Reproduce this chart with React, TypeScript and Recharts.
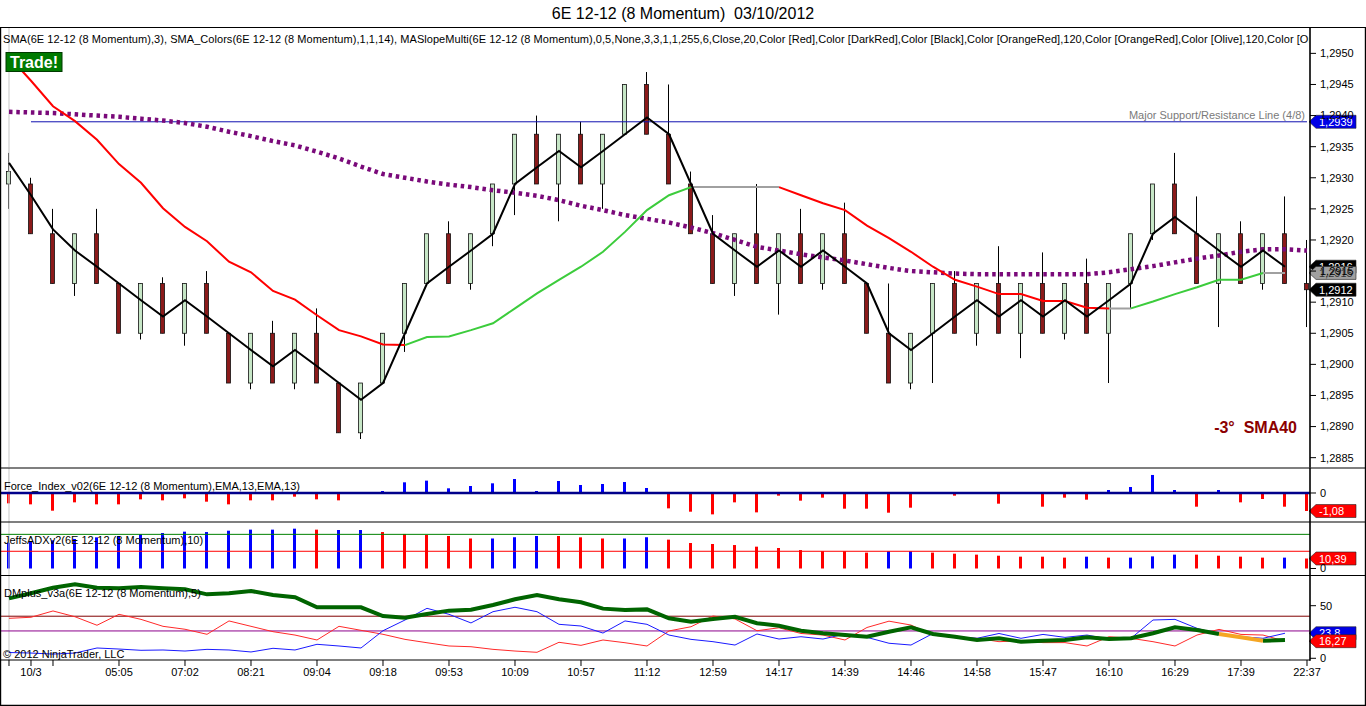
import React from "react";
import { Bar, Cell, ComposedChart, Line, ReferenceLine, XAxis, YAxis } from "recharts";

const FONT = "'Liberation Sans', Arial, sans-serif";
const W = 1366;
const X_DOMAIN: [number, number] = [-0.3636, 59.1364];
const M = { top: 0, right: 0, bottom: 0, left: 1 };

// momentum bars (8 ticks)
const opens = [
  1.2929, 1.2929, 1.2921, 1.2913, 1.2921, 1.2913, 1.2905, 1.2913, 1.2905, 1.2913,
  1.2905, 1.2897, 1.2905, 1.2897, 1.2905, 1.2897, 1.2889, 1.2897, 1.2905, 1.2913,
  1.2921, 1.2913, 1.2921, 1.2929, 1.2937, 1.2929, 1.2937, 1.2929, 1.2937, 1.2945,
  1.2937, 1.2929, 1.2921, 1.2913, 1.2921, 1.2913, 1.2921, 1.2913, 1.2921, 1.2913,
  1.2905, 1.2897, 1.2905, 1.2913, 1.2905, 1.2913, 1.2905, 1.2913, 1.2905, 1.2913,
  1.2905, 1.2913, 1.2921, 1.2929, 1.2921, 1.2913, 1.2921, 1.2913, 1.2921, 1.2913,
];
const highs = [
  1.2934, 1.293, 1.2925, 1.2921, 1.2925, 1.2913, 1.2913, 1.2914, 1.2913, 1.2915,
  1.2905, 1.2905, 1.2907, 1.2905, 1.2909, 1.2897, 1.2897, 1.2905, 1.2913, 1.2921,
  1.2923, 1.2921, 1.2929, 1.2937, 1.294, 1.2937, 1.2939, 1.2937, 1.2945, 1.2947,
  1.2945, 1.2931, 1.2924, 1.2921, 1.2929, 1.2921, 1.2925, 1.2921, 1.2926, 1.2913,
  1.2913, 1.2905, 1.2913, 1.2915, 1.2913, 1.2919, 1.2913, 1.2918, 1.2913, 1.2917,
  1.2913, 1.2921, 1.2929, 1.2934, 1.2927, 1.2921, 1.2923, 1.2921, 1.2927, 1.292,
];
const lows = [
  1.2925, 1.2921, 1.2913, 1.2911, 1.2913, 1.2905, 1.2904, 1.2905, 1.2903, 1.2905,
  1.2897, 1.2896, 1.2897, 1.2896, 1.2897, 1.2889, 1.2888, 1.2897, 1.2902, 1.2913,
  1.2913, 1.2912, 1.2919, 1.2924, 1.2929, 1.2923, 1.2929, 1.2925, 1.2937, 1.2937,
  1.2929, 1.2921, 1.2913, 1.2911, 1.2913, 1.2908, 1.2913, 1.2912, 1.2913, 1.2905,
  1.2897, 1.2896, 1.2897, 1.2905, 1.2903, 1.2905, 1.2901, 1.2905, 1.2904, 1.2905,
  1.2897, 1.2909, 1.292, 1.2921, 1.2913, 1.2906, 1.2913, 1.2912, 1.2913, 1.2906,
];
const closes = [
  1.2931, 1.2921, 1.2913, 1.2921, 1.2913, 1.2905, 1.2913, 1.2905, 1.2913, 1.2905,
  1.2897, 1.2905, 1.2897, 1.2905, 1.2897, 1.2889, 1.2897, 1.2905, 1.2913, 1.2921,
  1.2913, 1.2921, 1.2929, 1.2937, 1.2929, 1.2937, 1.2929, 1.2937, 1.2945, 1.2937,
  1.2929, 1.2921, 1.2913, 1.2921, 1.2913, 1.2921, 1.2913, 1.2921, 1.2913, 1.2905,
  1.2897, 1.2905, 1.2913, 1.2905, 1.2913, 1.2905, 1.2913, 1.2905, 1.2913, 1.2905,
  1.2913, 1.2921, 1.2929, 1.2921, 1.2913, 1.2921, 1.2913, 1.2921, 1.2913, 1.2912,
];

// SMA(3), black
const sma3 = [
  1.29324, 1.29272, 1.29217, 1.29183, 1.29157, 1.2913, 1.29103, 1.29077, 1.29103, 1.29077,
  1.2905, 1.29023, 1.28997, 1.29023, 1.28997, 1.2897, 1.28943, 1.2897, 1.2905, 1.2913,
  1.29157, 1.29183, 1.2921, 1.2929, 1.29317, 1.29343, 1.29317, 1.29343, 1.2937, 1.29397,
  1.2937, 1.2929, 1.2921, 1.29183, 1.29157, 1.29183, 1.29157, 1.29183, 1.29157, 1.2913,
  1.2905, 1.29023, 1.2905, 1.29077, 1.29103, 1.29077, 1.29103, 1.29077, 1.29103, 1.29077,
  1.29103, 1.2913, 1.2921, 1.29237, 1.2921, 1.29183, 1.29157, 1.29183, 1.29157, null,
];

// SMA_Colors(14): value and slope state per segment (d = down, u = up, f = flat)
const smaColors = [
  1.29495, 1.29456, 1.29415, 1.29391, 1.29361, 1.29322, 1.29292, 1.29251, 1.29221, 1.29198,
  1.29165, 1.29148, 1.29118, 1.29104, 1.29079, 1.29055, 1.29045, 1.29032, 1.29031, 1.29044,
  1.29045, 1.29055, 1.29066, 1.2909, 1.29114, 1.29136, 1.29157, 1.29181, 1.29213, 1.29248,
  1.29272, 1.29285, 1.29285, 1.29285, 1.29285, 1.29285, 1.29272, 1.29259, 1.29248, 1.29223,
  1.29203, 1.29181, 1.29157, 1.29136, 1.29125, 1.29113, 1.29113, 1.29102, 1.29102, 1.29091,
  1.2909, 1.2909, 1.29101, 1.29113, 1.29124, 1.29136, 1.29136, 1.29147, 1.29147, null,
];
const smaTrend = ("ddddddddddddddddddd" + "uuuuuuuuuuuuu" + "ffff" + "ddddddddddddddd" + "f" + "uuuuuu" + "f" + "-").split("");

// MASlopeMulti, purple dotted
const maSlope = [
  1.29406, 1.29405, 1.29404, 1.29402, 1.294, 1.29398, 1.29395, 1.29392, 1.29388, 1.29382,
  1.29374, 1.29367, 1.29359, 1.29352, 1.29342, 1.29331, 1.29318, 1.29306, 1.293, 1.29294,
  1.29289, 1.29285, 1.2928, 1.29276, 1.29271, 1.29264, 1.29255, 1.29248, 1.2924, 1.29234,
  1.29228, 1.2922, 1.29211, 1.292, 1.29189, 1.29183, 1.29177, 1.29172, 1.29167, 1.29161,
  1.29155, 1.2915, 1.29148, 1.29146, 1.29145, 1.29145, 1.29145, 1.29145, 1.29145, 1.29145,
  1.29148, 1.29153, 1.29158, 1.29164, 1.2917, 1.29175, 1.29181, 1.29185, 1.29185, 1.29183,
];
const srLevel = 1.2939;
const priceTicks = [1.2885, 1.289, 1.2895, 1.29, 1.2905, 1.291, 1.2915, 1.292, 1.2925, 1.293, 1.2935, 1.294, 1.2945, 1.295];

// Force_Index_v02
const force = [
  -0.62, -0.68, -1.06, -0.56, -0.68, -0.68, -0.38, -0.44, -0.32, -0.52,
  -0.68, -0.44, -0.44, -0.22, -0.38, -0.44, 0, 0.12, 0.64, 0.74,
  0.28, 0.42, 0.58, 0.84, 0.12, 0.72, 0.48, 0.54, 0.66, 0.3,
  -0.92, -1.12, -1.28, -0.56, -1.16, -0.16, -0.46, -0.28, -0.94, -0.94,
  -1.18, -0.88, -0.02, -0.16, 0, -0.64, 0, -0.82, -0.28, -0.4,
  0.18, 0.36, 1.08, 0.18, -0.82, 0.18, -0.56, -0.36, -0.82, -1.08,
];

// JeffsADXv2
const adx = [
  26.8, 27.9, 29.3, 30.7, 32.4, 33.8, 35.5, 36.9, 38.3, 37.9,
  39.3, 40.4, 40.4, 41.4, 40.4, 40, 40, 37.9, 35.9, 34.8,
  33.8, 31.2, 31.2, 32.5, 33.8, 33.8, 32.4, 31.2, 31.2, 32.5,
  30, 26.5, 25.5, 24.4, 22.7, 21.3, 19.2, 17.9, 17.9, 16.5,
  17.9, 17.9, 16.5, 15.4, 14.4, 13.3, 12.3, 12.3, 11.3, 12.3,
  11.3, 11.3, 12.6, 14.4, 14.4, 13.3, 12.3, 11.3, 11.3, 10.39,
];
const adxDir = ("bbbbbbbbbbbbbb" + "r" + "bb" + "rrrrr" + "bbb" + "rrr" + "bb" + "rrrrrrrrrr" + "bb" + "rrrrrrr" + "b" + "r" + "bbb" + "rrrr" + "b" + "r").split("");
const adxLevels = [17.9, 35.5];

// DMplus_v3a
const dmAdx = [
  57, 61.8, 67, 70.3, 67, 66.5, 67.8, 66.5, 65.6, 60.8,
  61.8, 64, 60.2, 58, 48.5, 48.5, 48.5, 40.2, 38.6, 42.1,
  45.3, 46.2, 50.7, 56.1, 60.2, 56.1, 53.2, 47.2, 45.9, 46.5,
  38, 34.8, 37.4, 39.5, 33.3, 31, 26.2, 23.8, 22.1, 20.5,
  25.3, 29.5, 23.1, 20.5, 17.4, 19, 15.8, 16.7, 17.4, 20,
  18.3, 19, 23.8, 29.5, 26.9, 23.1, 20, 16.7, 17.4, null,
];
const dmAdxWarn = [55, 56, 57]; // orange part of the thick line
const diMinus = [
  38, 39, 45, 39.5, 31.4, 41.8, 37, 30.4, 27.6, 22.8,
  35.5, 30.4, 25.3, 22.1, 17.4, 30.4, 26.6, 22.8, 18, 14.8,
  11.7, 11, 8.5, 6.9, 5.7, 15.2, 12.3, 17.4, 14.8, 11.7,
  26, 30, 40.2, 37.4, 26.2, 29, 23.6, 22.1, 17.4, 29.3,
  35.3, 31.6, 22.1, 19.6, 19, 15.8, 16.7, 14.9, 14.9, 11.7,
  20.5, 19, 15.8, 11.7, 22.1, 27.5, 22.7, 22.1, 16.27, null,
];
const diPlus = [
  5.5, 5, 4, 5, 9.8, 8.8, 7.6, 7.9, 6.9, 8.5,
  7.9, 6, 9.5, 7.9, 13.3, 11.7, 9.8, 26.2, 36.4, 47.5,
  41.8, 33.6, 44.3, 48.5, 44.3, 32.3, 30.7, 24, 35.5, 32.3,
  22.1, 18, 15.8, 12.6, 23.1, 18.3, 20.5, 18.3, 23.1, 19.9,
  14.3, 12.6, 23.6, 20.5, 19, 23.6, 19, 22.7, 19.9, 22.1,
  18.3, 19, 36.4, 37, 28.5, 22.7, 20.5, 19, 23.8, null,
];
const dmLevels = [40, 26];

const xTicks = [0, 1, 2, 5, 8, 11, 14, 17, 20, 23, 26, 29, 32, 35, 38, 41, 44, 47, 50, 53, 56, 59];
const xLabels = ["", "10/3", "", "05:05", "07:02", "08:21", "09:04", "09:18", "09:53", "10:09", "10:57", "11:12", "12:59", "14:17", "14:39", "14:46", "14:58", "15:47", "16:10", "16:29", "17:39", "22:37"];

const inSeg = (i: number, c: string) => smaTrend[i] === c || smaTrend[i + 1] === c;

const rows = opens.map((o, i) => ({
  i,
  open: o,
  high: highs[i],
  low: lows[i],
  close: closes[i],
  range: [lows[i], highs[i]],
  sma3: sma3[i],
  smaRed: inSeg(i, "d") ? smaColors[i] : null,
  smaGreen: inSeg(i, "u") ? smaColors[i] : null,
  smaGray: inSeg(i, "f") ? smaColors[i] : null,
  maSlope: maSlope[i],
  force: force[i],
  adx: adx[i],
  dmAdx: dmAdxWarn.slice(1, -1).includes(i) ? null : dmAdx[i],
  dmWarn: dmAdxWarn.includes(i) ? dmAdx[i] : null,
  diMinus: diMinus[i],
  diPlus: diPlus[i],
}));

const comma = (v: number, d: number) => v.toFixed(d).replace(".", ",");
const short = (v: number) => String(Number(v.toFixed(2))).replace(".", ",");

function Candle(props: any) {
  const { x, y, width, height, payload } = props;
  if (x == null || y == null) return null;
  const top = Math.min(y, y + height);
  const h = Math.abs(height);
  const k = h / (payload.high - payload.low);
  const cx = Math.round(x + width / 2) + 0.5;
  const bodyTop = top + (payload.high - Math.max(payload.open, payload.close)) * k;
  const bodyH = Math.max(1.5, Math.abs(payload.open - payload.close) * k);
  const up = payload.close > payload.open;
  return (
    <g>
      <line x1={cx} x2={cx} y1={top} y2={top + h} stroke="#000" strokeWidth={1} />
      <rect x={cx - 2} y={bodyTop} width={4} height={bodyH} fill={up ? "#c6e6c6" : "#8b1a1a"} stroke="#111" strokeWidth={0.8} />
    </g>
  );
}

const tag = (fill: string, text: string, color = "#fff", note?: string) => (props: any) => {
  const vb = props.viewBox;
  if (!vb) return null;
  const x = vb.x + vb.width - 1;
  const y = vb.y;
  return (
    <g>
      {note ? (
        <text x={x - 4} y={y - 3} textAnchor="end" fontSize={11} fill="#7a7a7a" fontFamily={FONT}>{note}</text>
      ) : null}
      <polygon points={`${x},${y} ${x + 7},${y - 6.5} ${x + 47},${y - 6.5} ${x + 47},${y + 6.5} ${x + 7},${y + 6.5}`} fill={fill} stroke="#222" strokeWidth={0.6} />
      <text x={x + 10} y={y + 4} fontSize={11} fill={color} fontFamily={FONT}>{text}</text>
    </g>
  );
};

const yAxisProps = {
  orientation: "right" as const,
  width: 56,
  axisLine: { stroke: "#000" },
  tickLine: { stroke: "#000" },
  tickSize: 6,
  tickMargin: 4,
  interval: 0 as const,
  allowDataOverflow: true,
  tick: { fontSize: 11, fill: "#000", fontFamily: FONT },
};

const hiddenX = <XAxis dataKey="i" type="number" domain={X_DOMAIN} allowDataOverflow hide />;

function PricePanel() {
  const last = rows.length - 1;
  return (
    <ComposedChart width={W} height={440} data={rows} margin={M}>
      {hiddenX}
      <YAxis {...yAxisProps} domain={[1.28835, 1.295424]} ticks={priceTicks} tickFormatter={(v) => comma(v, 4)} />
      <ReferenceLine x={0} stroke="#c8c8c8" />
      <ReferenceLine segment={[{ x: 1, y: srLevel }, { x: 59, y: srLevel }]} stroke="#1010b0" strokeWidth={1} />
      <Line dataKey="maSlope" stroke="#7a0a7a" strokeWidth={4.5} strokeDasharray="3.5 3.8" dot={false} activeDot={false} isAnimationActive={false} />
      <Line dataKey="smaRed" stroke="#ff0000" strokeWidth={2} dot={false} activeDot={false} isAnimationActive={false} />
      <Line dataKey="smaGreen" stroke="#3ccc3c" strokeWidth={2} dot={false} activeDot={false} isAnimationActive={false} />
      <Line dataKey="smaGray" stroke="#a0a0a0" strokeWidth={2} dot={false} activeDot={false} isAnimationActive={false} />
      <Bar dataKey="range" barSize={5} shape={(p: any) => <Candle {...p} />} isAnimationActive={false} />
      <Line dataKey="sma3" stroke="#000" strokeWidth={2} dot={false} activeDot={false} isAnimationActive={false} />
      <ReferenceLine y={srLevel} stroke="none" label={tag("#0000e6", comma(srLevel, 4), "#fff", "Major Support/Resistance Line (4/8)")} />
      <ReferenceLine y={sma3[last - 1] as number} stroke="none" label={tag("#000", comma(sma3[last - 1] as number, 4))} />
      <ReferenceLine y={smaColors[last - 1] as number} stroke="none" label={tag("#a0a0a0", comma(smaColors[last - 1] as number, 4), "#333")} />
      <ReferenceLine y={closes[last]} stroke="none" label={tag("#000", comma(closes[last], 4))} />
    </ComposedChart>
  );
}

function ForcePanel() {
  return (
    <ComposedChart width={W} height={54} data={rows} margin={M}>
      {hiddenX}
      <YAxis {...yAxisProps} domain={[-1.737, 1.497]} ticks={[0]} />
      <ReferenceLine x={0} stroke="#c8c8c8" />
      <Bar dataKey="force" barSize={3} isAnimationActive={false}>
        {rows.map((r) => <Cell key={r.i} fill={r.force >= 0 ? "#0000ff" : "#ff0000"} />)}
      </Bar>
      <ReferenceLine y={0} stroke="#00008b" strokeWidth={2.5} />
      <ReferenceLine y={force[force.length - 1]} stroke="none" label={tag("#ff0000", short(force[force.length - 1]))} />
    </ComposedChart>
  );
}

function AdxPanel() {
  return (
    <ComposedChart width={W} height={53} data={rows} margin={M}>
      {hiddenX}
      <YAxis {...yAxisProps} domain={[-6.76, 48.34]} ticks={[0]} />
      <ReferenceLine x={0} stroke="#c8c8c8" />
      <ReferenceLine y={adxLevels[1]} stroke="#008000" />
      <ReferenceLine y={adxLevels[0]} stroke="#ff0000" />
      <Bar dataKey="adx" barSize={3} isAnimationActive={false}>
        {rows.map((r) => <Cell key={r.i} fill={adxDir[r.i] === "b" ? "#0000ff" : "#ff0000"} />)}
      </Bar>
      <ReferenceLine y={adx[adx.length - 1]} stroke="none" label={tag("#ff0000", short(adx[adx.length - 1]))} />
    </ComposedChart>
  );
}

function DmPanel() {
  const k = rows.length - 2;
  return (
    <ComposedChart width={W} height={115} data={rows} margin={M}>
      <XAxis
        dataKey="i"
        type="number"
        domain={X_DOMAIN}
        allowDataOverflow
        ticks={xTicks}
        interval={0}
        height={30}
        tickSize={6}
        tickMargin={2}
        axisLine={{ stroke: "#000" }}
        tickLine={{ stroke: "#000" }}
        tick={{ fontSize: 11, fill: "#000", fontFamily: FONT }}
        tickFormatter={(v) => xLabels[xTicks.indexOf(v)] ?? ""}
      />
      <YAxis {...yAxisProps} domain={[-1.62, 79.18]} ticks={[0, 50]} />
      <ReferenceLine x={0} stroke="#c8c8c8" />
      <ReferenceLine y={dmLevels[0]} stroke="#800000" />
      <ReferenceLine y={dmLevels[1]} stroke="#8b008b" />
      <Line dataKey="diMinus" stroke="#ff2a2a" strokeWidth={1} dot={false} activeDot={false} isAnimationActive={false} />
      <Line dataKey="diPlus" stroke="#1a1aff" strokeWidth={1} dot={false} activeDot={false} isAnimationActive={false} />
      <Line dataKey="dmAdx" stroke="#006400" strokeWidth={4} dot={false} activeDot={false} isAnimationActive={false} />
      <Line dataKey="dmWarn" stroke="#f5a623" strokeWidth={4} dot={false} activeDot={false} isAnimationActive={false} />
      <ReferenceLine y={diPlus[k] as number} stroke="none" label={tag("#0000e6", short(diPlus[k] as number))} />
      <ReferenceLine y={diMinus[k] as number} stroke="none" label={tag("#ff0000", short(diMinus[k] as number))} />
    </ComposedChart>
  );
}

const legendText =
  "SMA(6E 12-12 (8 Momentum),3), SMA_Colors(6E 12-12 (8 Momentum),1,1,14), MASlopeMulti(6E 12-12 (8 Momentum),0,5,None,3,3,1,1,255,6,Close,20,Color [Red],Color [DarkRed],Color [Black],Color [OrangeRed],120,Color [OrangeRed],Color [Olive],120,Color [OrangeRed],Color [Olive]";

export default function App() {
  return (
    <div style={{ position: "absolute", left: 0, top: 0, width: W, height: 706, background: "#fff", fontFamily: FONT, overflow: "hidden" }}>
      <div style={{ position: "absolute", left: 0, top: 27 }}><PricePanel /></div>
      <div style={{ position: "absolute", left: 0, top: 468 }}><ForcePanel /></div>
      <div style={{ position: "absolute", left: 0, top: 522 }}><AdxPanel /></div>
      <div style={{ position: "absolute", left: 0, top: 575 }}><DmPanel /></div>
      <svg width={W} height={706} style={{ position: "absolute", left: 0, top: 0, pointerEvents: "none" }} fontFamily={FONT}>
        <defs>
          <clipPath id="plotClip"><rect x={0} y={27} width={1309} height={440} /></clipPath>
        </defs>
        <text x={683} y={19} textAnchor="middle" fontSize={16} fill="#000" style={{ whiteSpace: "pre" }}>6E 12-12 (8 Momentum)  03/10/2012</text>
        <g stroke="#000" strokeWidth={1.2}>
          <line x1={0} x2={W} y1={27.5} y2={27.5} />
          <line x1={0.6} x2={0.6} y1={27} y2={706} />
          <line x1={1365.4} x2={1365.4} y1={27} y2={706} />
          <line x1={0} x2={W} y1={705.4} y2={705.4} />
          <line x1={0} x2={W} y1={468} y2={468} />
          <line x1={0} x2={W} y1={522} y2={522} />
          <line x1={0} x2={W} y1={575.5} y2={575.5} />
          <line x1={1310} x2={1310} y1={27} y2={661} />
        </g>
        <text x={3} y={43} fontSize={11} letterSpacing={0.05} fill="#000" clipPath="url(#plotClip)">{legendText}</text>
        <rect x={6} y={52.5} width={56} height={19} fill="#007a00" stroke="#003a00" strokeWidth={1} />
        <text x={34} y={68} textAnchor="middle" fontSize={16} fontWeight="bold" fill="#fff">Trade!</text>
        <text x={1297} y={433} textAnchor="end" fontSize={16} fontWeight="bold" fill="#8b0000" style={{ whiteSpace: "pre" }}>-3°  SMA40</text>
        <text x={4} y={490} fontSize={11} fill="#000">Force_Index_v02(6E 12-12 (8 Momentum),EMA,13,EMA,13)</text>
        <text x={4} y={544} fontSize={11} fill="#000">JeffsADXv2(6E 12-12 (8 Momentum),10)</text>
        <text x={4} y={597} fontSize={11} fill="#000">DMplus_v3a(6E 12-12 (8 Momentum),5)</text>
        <text x={3} y={658} fontSize={11} fill="#000">© 2012 NinjaTrader, LLC</text>
      </svg>
    </div>
  );
}
